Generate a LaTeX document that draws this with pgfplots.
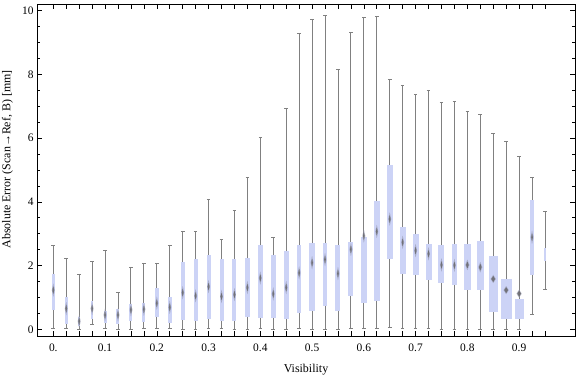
\documentclass[border=0pt]{standalone}
\usepackage{fontspec}
\setmainfont{Liberation Serif}
\usepackage{pgfplots}
\pgfplotsset{compat=1.18}
\usepgfplotslibrary{statistics}
\definecolor{boxblue}{RGB}{204,211,246}
\definecolor{whisk}{RGB}{128,128,128}
\definecolor{medcore}{RGB}{108,108,112}
\definecolor{medout}{RGB}{150,153,176}
\pgfplotsset{
  bw/.style={
    solid, draw=whisk, mark=none, line width=0.9bp,
    boxplot/draw direction=y,
    boxplot/whisker extend=0.007,
    boxplot/every box/.style={fill=boxblue, draw=none},
    boxplot/every whisker/.style={draw=whisk, line width=0.9bp},
    boxplot/draw/median/.code={},
  },
  dm/.style n args={4}{only marks, mark=diamond*, mark size=1bp, color=#1,
    mark options={solid, color=#1, fill=#1, opacity=#2, line width=0.05bp, xscale=#3, yscale=#4}},
}
\pgfplotstableread{
x med
0.000 1.23
0.025 0.65
0.050 0.25
0.075 0.65
0.100 0.45
0.125 0.45
0.150 0.61
0.175 0.63
0.200 0.82
0.225 0.69
0.250 1.15
0.275 1.05
0.300 1.34
0.325 1.03
0.350 1.09
0.375 1.31
0.400 1.61
0.425 1.11
0.450 1.31
0.475 1.77
0.500 2.09
0.525 2.19
0.550 1.75
0.575 2.51
0.600 2.93
0.625 3.07
0.650 3.46
0.675 2.73
0.700 2.47
0.725 2.37
0.750 2.02
0.775 2.01
0.925 2.89
}\mednarrow
\pgfplotstableread{
x med
0.800 2.02
0.825 1.95
}\medmid
\pgfplotstableread{
x med
0.850 1.58
0.875 1.23
0.900 1.12
}\medwide
\begin{document}
\begin{tikzpicture}
\begin{axis}[
  name=ax,
  scale only axis,
  width=538bp, height=332bp,
  xmin=-0.0315, xmax=1.008,
  ymin=-0.21, ymax=10.21,
  axis line style={line width=0.8bp, black},
  tick align=inside,
  tick pos=both,
  every tick/.style={black, line width=0.6bp},
  major tick length=5bp,
  minor tick length=3bp,
  xtick={0,0.025,0.05,0.075,0.1,0.125,0.15,0.175,0.2,0.225,0.25,0.275,0.3,0.325,0.35,0.375,0.4,0.425,0.45,0.475,0.5,0.525,0.55,0.575,0.6,0.625,0.65,0.675,0.7,0.725,0.75,0.775,0.8,0.825,0.85,0.875,0.9,0.925,0.95},
  xticklabels={{0.},{},{},{},{0.1},{},{},{},{0.2},{},{},{},{0.3},{},{},{},{0.4},{},{},{},{0.5},{},{},{},{0.6},{},{},{},{0.7},{},{},{},{0.8},{},{},{},{0.9},{},{}},
  ytick={0,2,4,6,8,10},
  minor y tick num=3,
  /pgf/number format/assume math mode=true,
  xticklabel style={font=\fontsize{11.5}{13}\selectfont, yshift=-4bp},
  yticklabel style={font=\fontsize{11.5}{13}\selectfont},
  xlabel={Visibility},
  ylabel={Absolute Error (Scan→Ref, B) [mm]},
  every axis x label/.style={at={([yshift=-36bp]rel axis cs:0.5,0)}, anchor=base, font=\fontsize{12}{14}\selectfont},
  every axis y label/.style={at={([xshift=-29.5bp]rel axis cs:0,0.532)}, anchor=center, rotate=90, font=\fontsize{12}{14}\selectfont},
]
\addplot[bw, boxplot prepared={draw position=0.000, box extend=0.00580, lower whisker=0.04, lower quartile=0.62, median=1.23, upper quartile=1.74, upper whisker=2.62}] coordinates {};
\addplot[bw, boxplot prepared={draw position=0.025, box extend=0.00580, lower whisker=0.04, lower quartile=0.16, median=0.65, upper quartile=1.00, upper whisker=2.21}] coordinates {};
\addplot[bw, boxplot prepared={draw position=0.050, box extend=0.00386, lower whisker=0.00, lower quartile=0.09, median=0.25, upper quartile=0.40, upper whisker=1.71}] coordinates {};
\addplot[bw, boxplot prepared={draw position=0.075, box extend=0.00522, lower whisker=0.14, lower quartile=0.32, median=0.65, upper quartile=0.89, upper whisker=2.14}] coordinates {};
\addplot[bw, boxplot prepared={draw position=0.100, box extend=0.00580, lower whisker=0.04, lower quartile=0.19, median=0.45, upper quartile=0.58, upper whisker=2.49}] coordinates {};
\addplot[bw, boxplot prepared={draw position=0.125, box extend=0.00580, lower whisker=0.00, lower quartile=0.16, median=0.45, upper quartile=0.64, upper whisker=1.17}] coordinates {};
\addplot[bw, boxplot prepared={draw position=0.150, box extend=0.00580, lower whisker=-0.01, lower quartile=0.25, median=0.61, upper quartile=0.78, upper whisker=1.94}] coordinates {};
\addplot[bw, boxplot prepared={draw position=0.175, box extend=0.00580, lower whisker=0.02, lower quartile=0.24, median=0.63, upper quartile=0.83, upper whisker=2.08}] coordinates {};
\addplot[bw, boxplot prepared={draw position=0.200, box extend=0.00715, lower whisker=0.02, lower quartile=0.40, median=0.82, upper quartile=1.31, upper whisker=2.08}] coordinates {};
\addplot[bw, boxplot prepared={draw position=0.225, box extend=0.00773, lower whisker=0.02, lower quartile=0.19, median=0.69, upper quartile=1.02, upper whisker=2.62}] coordinates {};
\addplot[bw, boxplot prepared={draw position=0.250, box extend=0.00773, lower whisker=0.00, lower quartile=0.28, median=1.15, upper quartile=2.12, upper whisker=3.07}] coordinates {};
\addplot[bw, boxplot prepared={draw position=0.275, box extend=0.00773, lower whisker=0.00, lower quartile=0.25, median=1.05, upper quartile=2.21, upper whisker=3.07}] coordinates {};
\addplot[bw, boxplot prepared={draw position=0.300, box extend=0.00773, lower whisker=0.04, lower quartile=0.31, median=1.34, upper quartile=2.33, upper whisker=4.08}] coordinates {};
\addplot[bw, boxplot prepared={draw position=0.325, box extend=0.00773, lower whisker=0.02, lower quartile=0.25, median=1.03, upper quartile=2.21, upper whisker=2.81}] coordinates {};
\addplot[bw, boxplot prepared={draw position=0.350, box extend=0.00773, lower whisker=-0.01, lower quartile=0.25, median=1.09, upper quartile=2.21, upper whisker=3.74}] coordinates {};
\addplot[bw, boxplot prepared={draw position=0.375, box extend=0.00908, lower whisker=-0.01, lower quartile=0.40, median=1.31, upper quartile=2.24, upper whisker=4.77}] coordinates {};
\addplot[bw, boxplot prepared={draw position=0.400, box extend=0.00908, lower whisker=0.04, lower quartile=0.36, median=1.61, upper quartile=2.65, upper whisker=6.03}] coordinates {};
\addplot[bw, boxplot prepared={draw position=0.425, box extend=0.00908, lower whisker=-0.01, lower quartile=0.34, median=1.11, upper quartile=2.33, upper whisker=2.89}] coordinates {};
\addplot[bw, boxplot prepared={draw position=0.450, box extend=0.00908, lower whisker=-0.01, lower quartile=0.32, median=1.31, upper quartile=2.46, upper whisker=6.93}] coordinates {};
\addplot[bw, boxplot prepared={draw position=0.475, box extend=0.00908, lower whisker=0.04, lower quartile=0.50, median=1.77, upper quartile=2.65, upper whisker=9.28}] coordinates {};
\addplot[bw, boxplot prepared={draw position=0.500, box extend=0.01024, lower whisker=-0.01, lower quartile=0.59, median=2.09, upper quartile=2.72, upper whisker=9.72}] coordinates {};
\addplot[bw, boxplot prepared={draw position=0.525, box extend=0.00908, lower whisker=-0.01, lower quartile=0.72, median=2.19, upper quartile=2.70, upper whisker=9.85}] coordinates {};
\addplot[bw, boxplot prepared={draw position=0.550, box extend=0.00966, lower whisker=-0.01, lower quartile=0.56, median=1.75, upper quartile=2.64, upper whisker=8.16}] coordinates {};
\addplot[bw, boxplot prepared={draw position=0.575, box extend=0.00966, lower whisker=0.04, lower quartile=1.03, median=2.51, upper quartile=2.74, upper whisker=9.32}] coordinates {};
\addplot[bw, boxplot prepared={draw position=0.600, box extend=0.01159, lower whisker=0.04, lower quartile=0.84, median=2.93, upper quartile=2.90, upper whisker=9.78}] coordinates {};
\addplot[bw, boxplot prepared={draw position=0.625, box extend=0.01159, lower whisker=0.04, lower quartile=0.90, median=3.07, upper quartile=4.03, upper whisker=9.82}] coordinates {};
\addplot[bw, boxplot prepared={draw position=0.650, box extend=0.01159, lower whisker=0.07, lower quartile=2.22, median=3.46, upper quartile=5.16, upper whisker=7.84}] coordinates {};
\addplot[bw, boxplot prepared={draw position=0.675, box extend=0.01159, lower whisker=0.02, lower quartile=1.75, median=2.73, upper quartile=3.21, upper whisker=7.65}] coordinates {};
\addplot[bw, boxplot prepared={draw position=0.700, box extend=0.01159, lower whisker=0.04, lower quartile=1.72, median=2.47, upper quartile=2.99, upper whisker=7.37}] coordinates {};
\addplot[bw, boxplot prepared={draw position=0.725, box extend=0.01159, lower whisker=0.02, lower quartile=1.56, median=2.37, upper quartile=2.68, upper whisker=7.50}] coordinates {};
\addplot[bw, boxplot prepared={draw position=0.750, box extend=0.01159, lower whisker=-0.01, lower quartile=1.44, median=2.02, upper quartile=2.65, upper whisker=7.12}] coordinates {};
\addplot[bw, boxplot prepared={draw position=0.775, box extend=0.00966, lower whisker=-0.01, lower quartile=1.40, median=2.01, upper quartile=2.68, upper whisker=7.16}] coordinates {};
\addplot[bw, boxplot prepared={draw position=0.800, box extend=0.01352, lower whisker=-0.01, lower quartile=1.22, median=2.02, upper quartile=2.68, upper whisker=6.84}] coordinates {};
\addplot[bw, boxplot prepared={draw position=0.825, box extend=0.01352, lower whisker=-0.01, lower quartile=1.22, median=1.95, upper quartile=2.77, upper whisker=6.75}] coordinates {};
\addplot[bw, boxplot prepared={draw position=0.850, box extend=0.01739, lower whisker=-0.01, lower quartile=0.53, median=1.58, upper quartile=2.30, upper whisker=6.15}] coordinates {};
\addplot[bw, boxplot prepared={draw position=0.875, box extend=0.02125, lower whisker=-0.01, lower quartile=0.31, median=1.23, upper quartile=1.58, upper whisker=5.90}] coordinates {};
\addplot[bw, boxplot prepared={draw position=0.900, box extend=0.01739, lower whisker=-0.01, lower quartile=0.31, median=1.12, upper quartile=0.96, upper whisker=5.44}] coordinates {};
\addplot[bw, boxplot prepared={draw position=0.925, box extend=0.00773, lower whisker=0.48, lower quartile=1.71, median=2.89, upper quartile=4.06, upper whisker=4.77}] coordinates {};
\addplot[bw, boxplot prepared={draw position=0.950, box extend=0.00386, lower whisker=1.25, lower quartile=2.15, median=2.35, upper quartile=2.55, upper whisker=3.71}] coordinates {};
% median diamonds: soft outer halo and grey core
\addplot[dm={medout}{0.55}{1.9}{6.5}] table[x=x, y=med] {\mednarrow};
\addplot[dm={medcore}{0.9}{1.1}{3.6}] table[x=x, y=med] {\mednarrow};
\addplot[dm={medout}{0.55}{2.6}{5.2}] table[x=x, y=med] {\medmid};
\addplot[dm={medcore}{0.9}{1.6}{3.2}] table[x=x, y=med] {\medmid};
\addplot[dm={medout}{0.55}{3.4}{4.0}] table[x=x, y=med] {\medwide};
\addplot[dm={medcore}{0.9}{2.4}{2.8}] table[x=x, y=med] {\medwide};
\end{axis}
\pgfresetboundingbox
\path[use as bounding box] ([shift={(-37bp,-41bp)}]ax.south west) rectangle ([shift={(1bp,4bp)}]ax.north east);
\end{tikzpicture}
\end{document}
